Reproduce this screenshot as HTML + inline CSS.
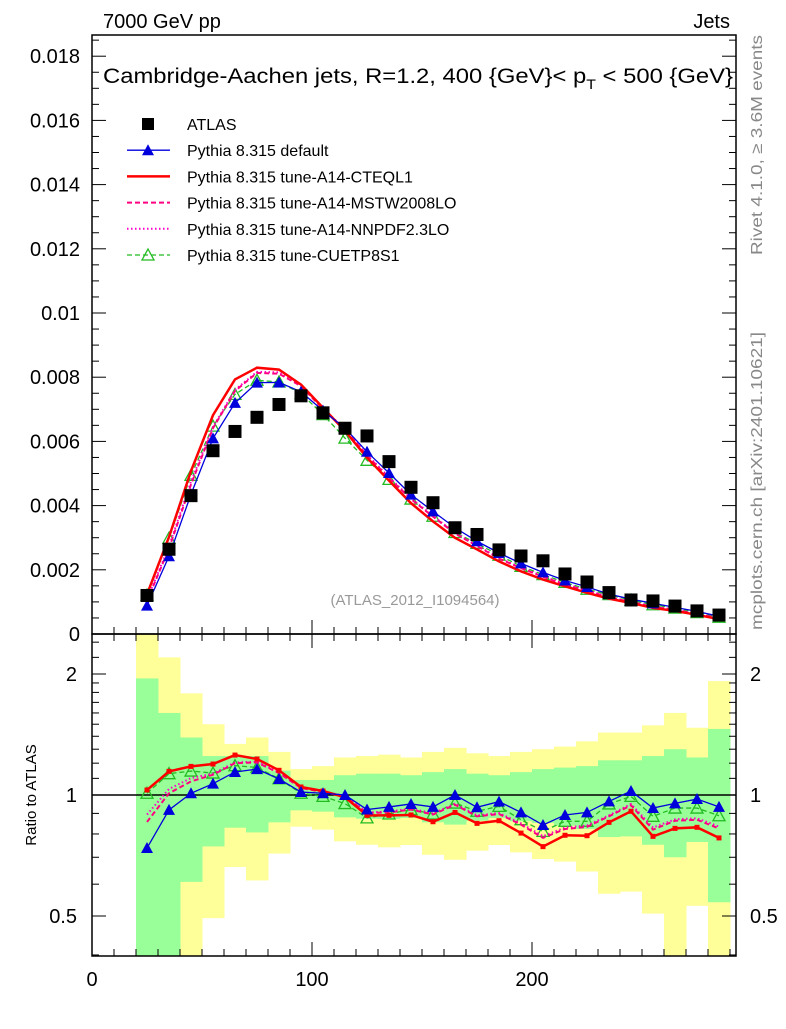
<!DOCTYPE html>
<html><head><meta charset="utf-8"><style>
body{margin:0;background:#fff;}
svg text{font-family:"Liberation Sans",sans-serif;}
</style></head><body>
<svg id="c" width="786" height="1024" xmlns="http://www.w3.org/2000/svg">
<defs>
<clipPath id="cm"><rect x="92" y="35" width="644" height="599"/></clipPath>
<clipPath id="cr"><rect x="92" y="634" width="644" height="322"/></clipPath>
</defs>
<g id="bands" clip-path="url(#cr)"></g>
<g id="ratio" clip-path="url(#cr)"></g>
<g id="main" clip-path="url(#cm)"></g>
<g id="axes"></g>
<text x="103" y="28" font-size="20">7000 GeV pp</text>
<text x="730" y="28" font-size="20" text-anchor="end">Jets</text>
<text x="103" y="83" font-size="21" textLength="630" lengthAdjust="spacingAndGlyphs">Cambridge-Aachen jets, R=1.2, 400 {GeV}&lt; p<tspan font-size="14" dy="6">T</tspan><tspan dy="-6"> &lt; 500 {GeV}</tspan></text>
<text x="415" y="605" font-size="15" fill="#999" text-anchor="middle">(ATLAS_2012_I1094564)</text>
<text transform="translate(762,255) rotate(-90)" font-size="16" fill="#888" textLength="220" lengthAdjust="spacingAndGlyphs">Rivet 4.1.0, ≥ 3.6M events</text>
<text transform="translate(762,630) rotate(-90)" font-size="16" fill="#888" textLength="298" lengthAdjust="spacingAndGlyphs">mcplots.cern.ch [arXiv:2401.10621]</text>
<text transform="translate(36,795) rotate(-90)" font-size="15" text-anchor="middle">Ratio to ATLAS</text>
<g id="legend"></g>
</svg>
<script>
const xCenters=[25,35,45,55,65,75,85,95,105,115,125,135,145,155,165,175,185,195,205,215,225,235,245,255,265,275,285];
const atlas=[0.00120,0.00264,0.00431,0.00571,0.00631,0.00675,0.00715,0.00742,0.00689,0.00641,0.00617,0.00537,0.00457,0.00409,0.00331,0.00310,0.00262,0.00243,0.00228,0.00187,0.00162,0.00129,0.00106,0.00103,0.00087,0.00072,0.00059];
const rDefault=[0.738,0.918,1.01,1.067,1.141,1.16,1.096,1.017,1.01,1.0,0.92,0.934,0.95,0.934,1.0,0.932,0.963,0.905,0.842,0.892,0.905,0.964,1.023,0.928,0.953,0.977,0.934];
const rCTEQ=[1.029,1.145,1.178,1.194,1.257,1.229,1.152,1.047,1.023,0.987,0.89,0.89,0.892,0.858,0.905,0.85,0.863,0.804,0.744,0.794,0.792,0.855,0.911,0.789,0.826,0.831,0.782];
const rMSTW=[0.857,1.01,1.081,1.123,1.2,1.205,1.134,1.041,1.017,0.992,0.902,0.905,0.92,0.894,0.946,0.885,0.897,0.844,0.782,0.823,0.833,0.885,0.943,0.82,0.863,0.868,0.825];
const rNNPDF=[0.894,1.035,1.102,1.13,1.205,1.21,1.14,1.045,1.02,0.995,0.905,0.91,0.925,0.9,0.952,0.89,0.902,0.85,0.79,0.83,0.84,0.89,0.95,0.83,0.87,0.875,0.835];
const rCUETP=[1.01,1.13,1.147,1.134,1.183,1.171,1.098,1.01,0.992,0.952,0.877,0.897,0.92,0.897,0.955,0.911,0.937,0.868,0.812,0.86,0.86,0.95,0.992,0.885,0.928,0.928,0.888];
const greenHi=[1.95,1.60,1.39,1.25,1.25,1.25,1.15,1.09,1.09,1.12,1.13,1.13,1.12,1.14,1.16,1.13,1.12,1.14,1.16,1.17,1.18,1.22,1.22,1.25,1.30,1.24,1.46];
const greenLo=[0.3,0.3,0.608,0.745,0.829,0.807,0.855,0.916,0.909,0.880,0.873,0.872,0.877,0.855,0.844,0.863,0.877,0.860,0.852,0.839,0.823,0.786,0.789,0.752,0.700,0.764,0.541];
const yellowHi=[3.0,2.20,1.79,1.50,1.34,1.39,1.28,1.16,1.18,1.24,1.25,1.26,1.24,1.28,1.31,1.27,1.25,1.28,1.30,1.32,1.36,1.43,1.43,1.49,1.60,1.47,1.92];
const yellowLo=[0.3,0.3,0.3,0.494,0.662,0.613,0.715,0.834,0.820,0.767,0.752,0.741,0.751,0.710,0.690,0.727,0.751,0.720,0.693,0.683,0.645,0.568,0.575,0.507,0.3,0.530,0.3];
const mainTicks=["0","0.002","0.004","0.006","0.008","0.01","0.012","0.014","0.016","0.018"];
const xTicks=[0,100,200];
const ratioTicks=[0.5,1,2];

const NS="http://www.w3.org/2000/svg";
const X=v=>92+2.2*v;
const Ym=v=>634-v*32100;
const Yr=r=>795-121*Math.log2(r);
function mk(tag,attrs,parent){const e=document.createElementNS(NS,tag);for(const k in attrs)e.setAttribute(k,attrs[k]);parent.appendChild(e);return e;}
const bands=document.getElementById('bands'),ratio=document.getElementById('ratio'),main=document.getElementById('main'),axes=document.getElementById('axes'),legend=document.getElementById('legend');

xCenters.forEach((c,i)=>{
  const y=mk('rect',{x:X(c-5),y:Yr(yellowHi[i]),width:2.2*10+0.5,height:Yr(yellowLo[i])-Yr(yellowHi[i]),fill:'#ffff99'},bands);
  
  
});
xCenters.forEach((c,i)=>{
  const g=mk('rect',{x:X(c-5),y:Yr(greenHi[i]),width:2.2*10+0.5,height:Yr(greenLo[i])-Yr(greenHi[i]),fill:'#99ff99'},bands);
  
  
});
const one=mk('line',{x1:92,x2:736,y1:Yr(1),y2:Yr(1),stroke:'#000','stroke-width':1.5},ratio);



const series=[
 {name:'cuetp8s1',r:rCUETP,color:'#22bb22',w:1.3,dash:'5,3',mark:'otri'},
 {name:'nnpdf',r:rNNPDF,color:'#ff00cc',w:2,dash:'1.5,2.5',mark:'none'},
 {name:'mstw',r:rMSTW,color:'#ff0080',w:2,dash:'5,3',mark:'none'},
 {name:'cteq',r:rCTEQ,color:'#ff0000',w:2.5,dash:'',mark:'sq'},
 {name:'default',r:rDefault,color:'#0000dd',w:1.3,dash:'',mark:'tri'}
];
function marker(type,x,y,color,parent,name){
  let e=null;
  if(type==='tri')e=mk('path',{d:`M${x},${y-6}L${x+6},${y+5}L${x-6},${y+5}Z`,fill:color},parent);
  else if(type==='otri')e=mk('path',{d:`M${x},${y-6}L${x+6},${y+5}L${x-6},${y+5}Z`,fill:'none',stroke:color,'stroke-width':1.3},parent);
  else if(type==='sq')e=mk('rect',{x:x-2.5,y:y-2.5,width:5,height:5,fill:color},parent);
  if(e){
  }
}
series.forEach(s=>{
  const rp=xCenters.map((c,i)=>X(c)+','+Yr(s.r[i])).join(' ');
  const l1=mk('polyline',{points:rp,fill:'none',stroke:s.color,'stroke-width':s.w,'stroke-dasharray':s.dash},ratio);
  
  
  const mp=xCenters.map((c,i)=>X(c)+','+Ym(s.r[i]*atlas[i])).join(' ');
  const l2=mk('polyline',{points:mp,fill:'none',stroke:s.color,'stroke-width':s.w,'stroke-dasharray':s.dash},main);
  
  
  xCenters.forEach((c,i)=>{
    marker(s.mark,X(c),Yr(s.r[i]),s.color,ratio,'ratio-point-'+s.name);
    marker(s.mark==='sq'?'none':s.mark,X(c),Ym(s.r[i]*atlas[i]),s.color,main,'point-'+s.name);
  });
});
xCenters.forEach((c,i)=>{
  const p=mk('rect',{x:X(c)-6.5,y:Ym(atlas[i])-6.5,width:13,height:13,fill:'#000'},main);
  
  
});

[[35,599],[634,322]].forEach(([t,h])=>{
  const f=mk('rect',{x:92,y:t,width:644,height:h,fill:'none',stroke:'#000','stroke-width':1.5},axes);
  
  
});
for(let k=0;k<=37;k++){
  const v=k*0.0005,y=Ym(v);if(y<35)break;
  const len=k%4===0?14:7;
  mk('line',{x1:92,x2:92+len,y1:y,y2:y,stroke:'#000'},axes);
  mk('line',{x1:736,x2:736-len,y1:y,y2:y,stroke:'#000'},axes);
}
mainTicks.forEach(t=>{
  const tx=mk('text',{x:80,y:Ym(parseFloat(t))+7,'font-size':20,'text-anchor':'end'},axes);tx.textContent=t;
  
  
});
for(let v=0;v<=290;v+=10){
  const len=v%100===0?14:7;
  [[634,-1],[956,-1],[634,1]].forEach(([b,d])=>{
    mk('line',{x1:X(v),x2:X(v),y1:b,y2:b+d*len,stroke:'#000'},axes);
  });
}
xTicks.forEach(v=>{
  const tx=mk('text',{x:X(v),y:986,'font-size':20,'text-anchor':'middle'},axes);tx.textContent=v;
  
  
});
[0.4,0.5,0.6,0.7,0.8,0.9,1,1.1,1.2,1.3,1.4,1.5,1.6,1.7,1.8,1.9,2,2.2,2.4].forEach(r=>{
  const len=(r===0.5||r===1||r===2)?14:7,y=Yr(r);
  mk('line',{x1:92,x2:92+len,y1:y,y2:y,stroke:'#000'},axes);
  mk('line',{x1:736,x2:736-len,y1:y,y2:y,stroke:'#000'},axes);
});
ratioTicks.forEach(r=>{
  const a=mk('text',{x:77,y:Yr(r)+7,'font-size':20,'text-anchor':'end'},axes);a.textContent=r;
  
  
  const b=mk('text',{x:750,y:Yr(r)+7,'font-size':20},axes);b.textContent=r;
  
  
});
const leg=[
 ['ATLAS','#000','','sqbig',0],
 ['Pythia 8.315 default','#0000dd','','tri',1.3],
 ['Pythia 8.315 tune-A14-CTEQL1','#ff0000','','none',2.5],
 ['Pythia 8.315 tune-A14-MSTW2008LO','#ff0080','5,3','none',2],
 ['Pythia 8.315 tune-A14-NNPDF2.3LO','#ff00cc','1.5,2.5','none',2],
 ['Pythia 8.315 tune-CUETP8S1','#22bb22','5,3','otri',1.3]
];
leg.forEach((l,i)=>{
  const y=124+i*26.2;
  const g=mk('g',{},legend);
  
  
  if(l[4]>0)mk('line',{x1:127,x2:170,y1:y,y2:y,stroke:l[1],'stroke-width':l[4],'stroke-dasharray':l[2]},g);
  if(l[3]==='sqbig')mk('rect',{x:142,y:y-6,width:12,height:12,fill:'#000'},g);
  else marker(l[3],148,y,l[1],g,'legend-marker');
  const t=mk('text',{x:187,y:y+6,'font-size':16},g);t.textContent=l[0];
});
</script>
</body></html>
